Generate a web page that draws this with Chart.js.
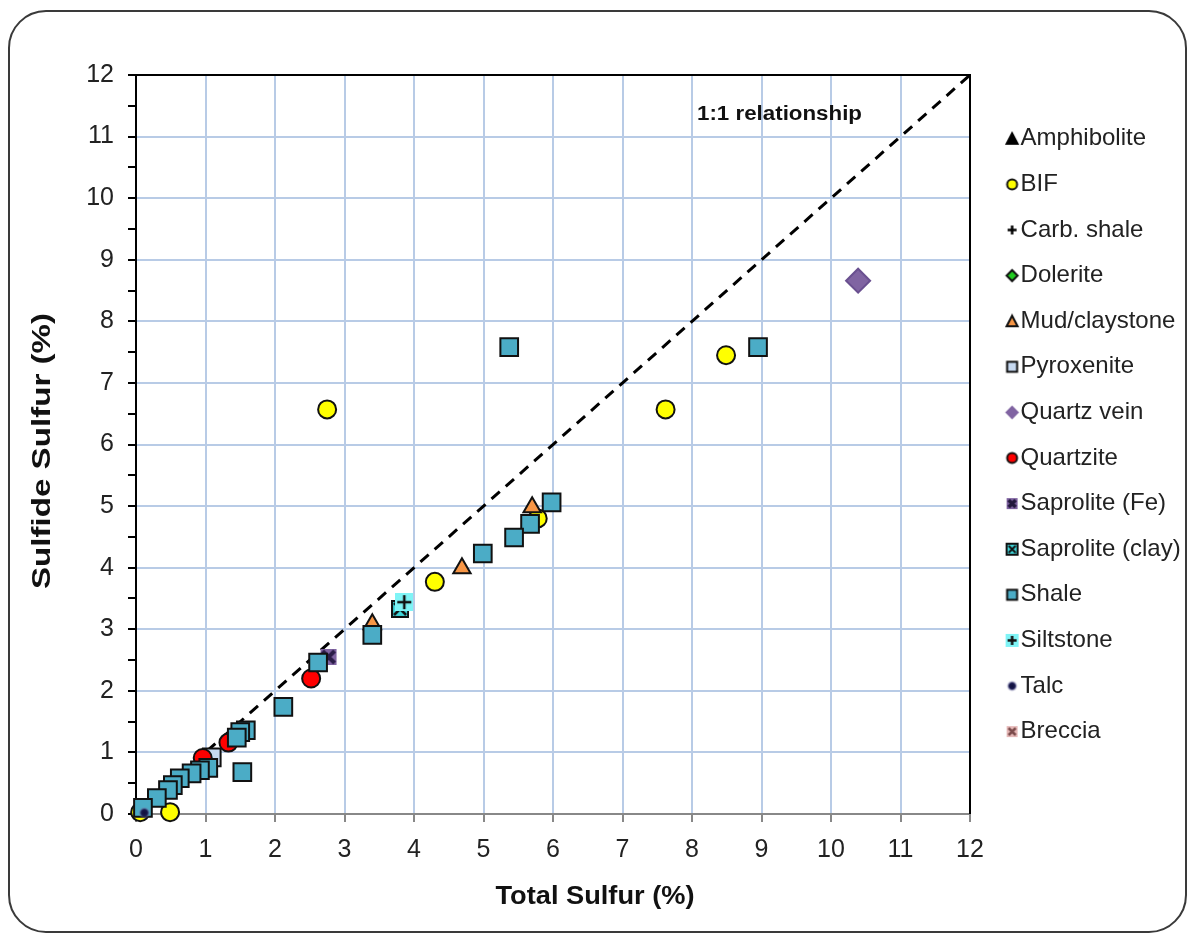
<!DOCTYPE html>
<html><head><meta charset="utf-8">
<script src="https://cdn.jsdelivr.net/npm/chart.js@4.4.1/dist/chart.umd.min.js"></script>
<style>
html,body{margin:0;padding:0;background:#fff;overflow:hidden;}
#wrap{position:relative;width:1189px;height:934px;}
#frame{position:absolute;left:8px;top:10px;width:1179px;height:923px;border:2px solid #3a3a3a;border-radius:38px;box-sizing:border-box;}
#cv{position:absolute;left:0;top:0;}
</style></head>
<body>
<div id="wrap"><div id="frame"></div><canvas id="cv" width="1189" height="934"></canvas></div>
<script>
// ---- data ----
const seriesNames = ["Amphibolite","BIF","Carb. shale","Dolerite","Mud/claystone","Pyroxenite","Quartz vein","Quartzite","Saprolite (Fe)","Saprolite (clay)","Shale","Siltstone","Talc","Breccia"];
const amphX = [], amphY = [];
const bifX = [2.75, 7.62, 8.49, 4.30, 5.78, 0.06, 0.49];
const bifY = [6.57, 6.57, 7.45, 3.77, 4.80, 0.03, 0.03];
const carbX = [], carbY = [];
const dolX = [], dolY = [];
const mudX = [5.70, 4.69, 3.40];
const mudY = [4.98, 3.99, 3.08];
const pyrX = [1.09];
const pyrY = [0.92];
const qvX = [10.39];
const qvY = [8.66];
const qzX = [2.52, 1.33, 0.96];
const qzY = [2.20, 1.16, 0.91];
const sapFeX = [2.77];
const sapFeY = [2.55];
const sapClX = [3.80];
const sapClY = [3.33];
const shaleX = [5.37, 8.95, 5.98, 5.67, 5.44, 4.99, 3.40, 2.62, 2.12, 1.58, 1.50, 1.45, 1.53, 1.04, 0.92, 0.80, 0.63, 0.53, 0.46, 0.30, 0.10];
const shaleY = [7.58, 7.58, 5.06, 4.71, 4.49, 4.23, 2.91, 2.46, 1.74, 1.36, 1.33, 1.24, 0.68, 0.75, 0.71, 0.66, 0.58, 0.47, 0.39, 0.26, 0.10];
const siltX = [3.86];
const siltY = [3.44];
const talcX = [0.12];
const talcY = [0.02];
const brecX = [], brecY = [];
const lineX = [0, 12];
const lineY = [0, 12];
const xTicks = [0,1,2,3,4,5,6,7,8,9,10,11,12];
const yTicks = [0,1,2,3,4,5,6,7,8,9,10,11,12];

const pts = (xs, ys) => xs.map((x, i) => ({x, y: ys[i]}));

// ---- icons ----
function icon(w, h, draw){
  const c = document.createElement('canvas');
  c.width = w; c.height = h;
  const g = c.getContext('2d');
  draw(g);
  return c;
}
function sqX(fill, xcol, border, xw){
  return (g, ox, oy, s) => {
    g.fillStyle = fill; g.fillRect(ox+1,oy+1,s-2,s-2);
    g.strokeStyle = xcol; g.lineWidth = xw; g.beginPath();
    g.moveTo(ox+3,oy+3); g.lineTo(ox+s-3,oy+s-3); g.moveTo(ox+s-3,oy+3); g.lineTo(ox+3,oy+s-3); g.stroke();
    if (border){ g.strokeStyle = border; g.lineWidth = 2; g.strokeRect(ox+1,oy+1,s-2,s-2); }
  };
}
function sqPlus(fill){
  return (g, ox, oy, s) => {
    g.fillStyle = fill; g.fillRect(ox,oy,s,s);
    g.strokeStyle = '#111'; g.lineWidth = 2.5; g.beginPath();
    g.moveTo(ox+s/2,oy+2); g.lineTo(ox+s/2,oy+s-2); g.moveTo(ox+2,oy+s/2); g.lineTo(ox+s-2,oy+s/2); g.stroke();
  };
}
function talcDraw(g, ox, oy, s){
  const cx = ox+s/2, cy = oy+s/2;
  const gr = g.createRadialGradient(cx,cy,0,cx,cy,s/2);
  gr.addColorStop(0,'#10103a'); gr.addColorStop(0.55,'#1a1a50'); gr.addColorStop(1,'rgba(150,150,200,0)');
  g.fillStyle = gr; g.beginPath(); g.arc(cx,cy,s/2,0,Math.PI*2); g.fill();
}
function shapeDraw(kind, fill, stroke){
  return (g, ox, oy, s) => {
    const cx = ox + s/2, cy = oy + s/2;
    g.fillStyle = fill; g.strokeStyle = stroke || fill; g.lineWidth = 2;
    g.beginPath();
    if (kind === 'tri'){ g.moveTo(cx,oy+1.5); g.lineTo(ox+s-1.5,oy+s-2); g.lineTo(ox+1.5,oy+s-2); g.closePath(); g.fill(); if(stroke) g.stroke(); }
    else if (kind === 'circ'){ g.arc(cx,cy,s/2-1.5,0,Math.PI*2); g.fill(); if(stroke) g.stroke(); }
    else if (kind === 'sq'){ g.rect(ox+1.5,oy+1.5,s-3,s-3); g.fill(); if(stroke) g.stroke(); }
    else if (kind === 'dia'){ g.moveTo(cx,oy+1); g.lineTo(ox+s-1,cy); g.lineTo(cx,oy+s-1); g.lineTo(ox+1,cy); g.closePath(); g.fill(); if(stroke) g.stroke(); }
    else if (kind === 'plus'){ g.lineWidth = 2.5; g.moveTo(cx,oy+2); g.lineTo(cx,oy+s-2); g.moveTo(ox+2,cy); g.lineTo(ox+s-2,cy); g.stroke(); }
  };
}
const plotIcon = (s, fn) => icon(s, s, g => fn(g, 0, 0, s));
const sapFeIcon = plotIcon(18, sqX('#8064a2', '#2b1d48', null, 4));
const sapClIcon = plotIcon(18, sqX('#40d8dc', '#111', '#111', 2.5));
const siltIcon = plotIcon(18, sqPlus('#7ff4f6'));
const talcIcon = plotIcon(12, talcDraw);
const brecIcon = plotIcon(18, sqX('#e6b9b8', '#7a4a4a', null, 3));

const LSHIFT = 12;
const legIcon = (s, fn) => {
  const W = 2 * (LSHIFT + s/2 + 2), H = s + 2;
  return icon(W, H, g => fn(g, W/2 + LSHIFT - s/2, 1, s));
};
const legendIcons = [
  legIcon(14, shapeDraw('tri','#000','#000')),
  legIcon(13, shapeDraw('circ','#ffff00','#111')),
  legIcon(13, shapeDraw('plus','#000',null)),
  legIcon(13, shapeDraw('dia','#22cc22','#111')),
  legIcon(14, shapeDraw('tri','#f79646','#111')),
  legIcon(13, shapeDraw('sq','#c6d9f1','#111')),
  legIcon(13, shapeDraw('dia','#8064a2','#8064a2')),
  legIcon(13, shapeDraw('circ','#ff0000','#111')),
  legIcon(13, sqX('#8064a2', '#22183c', null, 3.5)),
  legIcon(13, sqX('#40d8dc', '#111', '#111', 2)),
  legIcon(13, shapeDraw('sq','#4bacc6','#111')),
  legIcon(13, sqPlus('#7ff4f6')),
  legIcon(11, talcDraw),
  legIcon(13, sqX('#e6b9b8', '#7a4a4a', null, 2.5))
];

const B = '#111';
const ds = [
  {data: pts(amphX, amphY), pointStyle:'triangle', radius:9, backgroundColor:'#000', borderColor:'#000'},
  {data: pts(bifX, bifY), pointStyle:'circle', radius:9, backgroundColor:'#ffff00', borderColor:B},
  {data: pts(carbX, carbY), pointStyle:'cross', radius:9, backgroundColor:'#000', borderColor:'#000'},
  {data: pts(dolX, dolY), pointStyle:'rectRot', radius:9, backgroundColor:'#22cc22', borderColor:B},
  {data: pts(mudX, mudY), pointStyle:'triangle', radius:10, backgroundColor:'#f79646', borderColor:B},
  {data: pts(pyrX, pyrY), pointStyle:'rect', radius:12.5, backgroundColor:'#c6d9f1', borderColor:B},
  {data: pts(qvX, qvY), pointStyle:'rectRot', radius:12, backgroundColor:'#8064a2', borderColor:'#6a5090'},
  {data: pts(qzX, qzY), pointStyle:'circle', radius:9, backgroundColor:'#ff0000', borderColor:B},
  {data: pts(sapFeX, sapFeY), pointStyle: sapFeIcon},
  {data: pts(sapClX, sapClY), pointStyle: sapClIcon},
  {data: pts(shaleX, shaleY), pointStyle:'rect', radius:12.5, backgroundColor:'#4bacc6', borderColor:B},
  {data: pts(siltX, siltY), pointStyle: siltIcon},
  {data: pts(talcX, talcY), pointStyle: talcIcon},
  {data: pts(brecX, brecY), pointStyle: brecIcon}
].map((d, i) => Object.assign({label: seriesNames[i], borderWidth: 2, order: 100 - i, clip: false, pointRadius: d.radius || 9, pointHoverRadius: d.radius || 9}, d));

ds.push({label:'1:1', data: pts(lineX, lineY), showLine:true, borderColor:'#000', borderWidth:3, borderDash:[11,8], pointRadius:0, order:1000, fill:false});
const lineIdx = ds.length - 1;

const FONT = "'Liberation Sans', Arial, sans-serif";
const gridBlue = '#b8cbe6';
const PADR = 0;
const CHART_RIGHT = 970;

function stretchText(ctx, text, cx, cy, targetW){
  const w = ctx.measureText(text).width;
  ctx.save();
  ctx.translate(cx, cy);
  ctx.scale(targetW / w, 1);
  ctx.textAlign = 'center';
  ctx.fillText(text, 0, 0);
  ctx.restore();
}

const textPlugin = {
  id:'texts',
  beforeDatasetsDraw(chart){
    const {ctx, chartArea:a} = chart;
    ctx.save();
    ctx.strokeStyle = '#000'; ctx.lineWidth = 2;
    ctx.beginPath(); ctx.moveTo(a.left, a.top); ctx.lineTo(a.right, a.top); ctx.lineTo(a.right, a.bottom); ctx.stroke();
    ctx.restore();
  },
  afterDraw(chart){
    const {ctx} = chart;
    ctx.save();
    ctx.fillStyle = '#111';
    ctx.textBaseline = 'middle';
    ctx.font = "bold 20px " + FONT;
    stretchText(ctx, '1:1 relationship', 779.5, 114, 165);
    ctx.font = "bold 26px " + FONT;
    stretchText(ctx, 'Total Sulfur (%)', 595, 897, 199);
    ctx.translate(43, 451); ctx.rotate(-Math.PI/2);
    stretchText(ctx, 'Sulfide Sulfur (%)', 0, 0, 276);
    ctx.restore();
  }
};

new Chart(document.getElementById('cv'), {
  type:'scatter',
  data:{datasets: ds},
  options:{
    responsive:false, animation:false,
    layout:{padding:{top:75, left:0, right:PADR, bottom:0}},
    plugins:{
      tooltip:{enabled:false},
      legend:{
        position:'right', align:'start',
        maxWidth: 1189 - CHART_RIGHT - PADR,
        title:{display:true, text:'', padding:{top:29, bottom:0}, font:{size:1}},
        labels:{
          usePointStyle:true, boxWidth:17, boxHeight:10, padding:21.6,
          color:'#222', font:{family:FONT, size:24},
          filter:(item) => item.datasetIndex !== lineIdx,
          sort:(a,b) => a.datasetIndex - b.datasetIndex,
          generateLabels:(chart) => {
            const items = Chart.defaults.plugins.legend.labels.generateLabels(chart);
            items.forEach(it => { if (it.datasetIndex < legendIcons.length) it.pointStyle = legendIcons[it.datasetIndex]; });
            return items;
          }
        }
      }
    },
    scales:{
      x:{
        type:'linear', min:0, max:12,
        afterBuildTicks:(s) => { s.ticks = xTicks.map(v => ({value:v})); },
        afterFit:(s) => { s.height = 120; },
        ticks:{color:'#222', font:{family:FONT, size:25}, padding:13, autoSkip:false, maxRotation:0},
        grid:{color:gridBlue, lineWidth:2, tickColor:'#888', tickLength:8},
        border:{color:'#888', width:2}
      },
      y:{
        type:'linear', min:0, max:12,
        afterBuildTicks:(s) => {
          const t = [];
          yTicks.forEach((v, i) => { t.push({value:v}); if (i < yTicks.length - 1) t.push({value:v + 0.5}); });
          s.ticks = t;
        },
        afterFit:(s) => { s.width = 136; },
        ticks:{color:'#222', font:{family:FONT, size:25}, padding:14, autoSkip:false,
          callback:(v) => Number.isInteger(v) ? String(v) : ''},
        grid:{color:(c) => Number.isInteger(c.tick && c.tick.value) ? gridBlue : 'rgba(0,0,0,0)', lineWidth:2, tickColor:'#000', tickLength:8},
        border:{color:'#000', width:2}
      }
    }
  },
  plugins:[textPlugin]
});
</script>
</body></html>
